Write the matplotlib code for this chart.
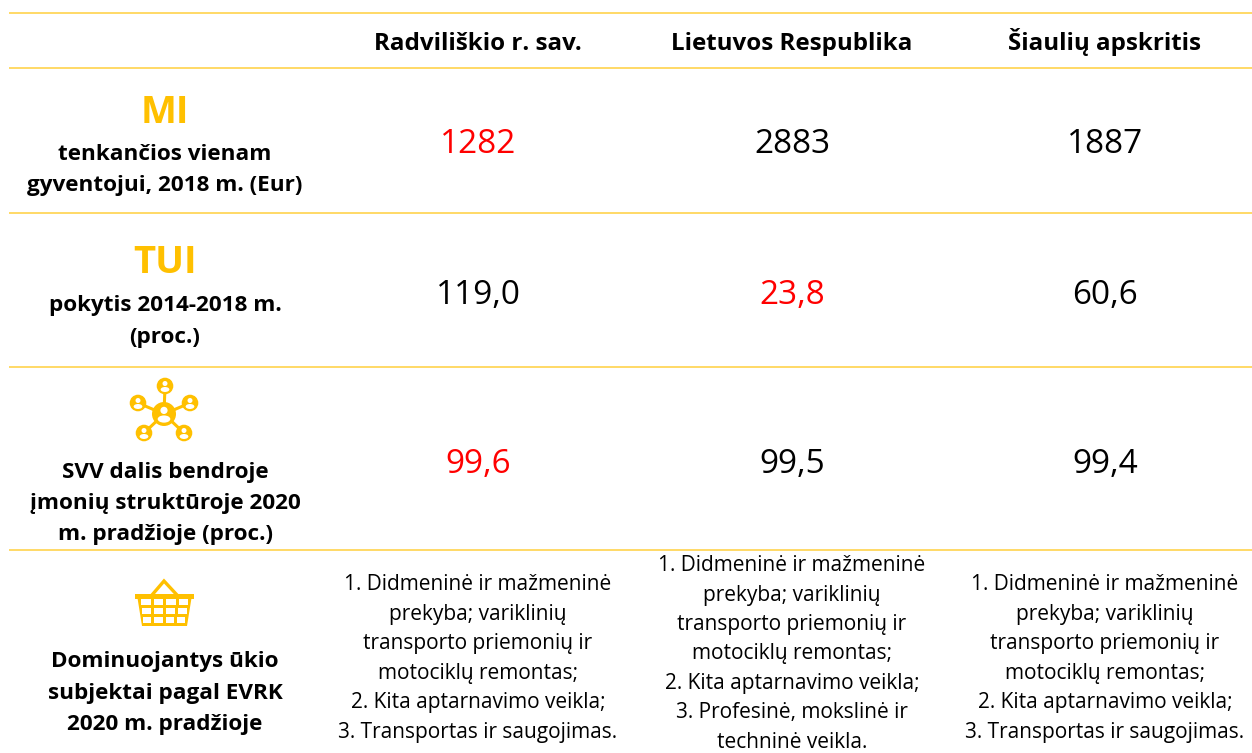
import matplotlib
matplotlib.use("Agg")
import matplotlib.pyplot as plt
from matplotlib.patches import Circle, Polygon, Ellipse

columns = ["Radviliškio r. sav.", "Lietuvos Respublika", "Šiaulių apskritis"]
row_titles = ["MI", "TUI"]
row_labels = [
    "tenkančios vienam\ngyventojui, 2018 m. (Eur)",
    "pokytis 2014-2018 m.\n(proc.)",
    "SVV dalis bendroje\nįmonių struktūroje 2020\nm. pradžioje (proc.)",
    "Dominuojantys ūkio\nsubjektai pagal EVRK\n2020 m. pradžioje",
]
values_mi = ["1282", "2883", "1887"]
values_tui = ["119,0", "23,8", "60,6"]
values_svv = ["99,6", "99,5", "99,4"]
evrk = [
    "1. Didmeninė ir mažmeninė\nprekyba; variklinių\ntransporto priemonių ir\nmotociklų remontas;\n2. Kita aptarnavimo veikla;\n3. Transportas ir saugojimas.",
    "1. Didmeninė ir mažmeninė\nprekyba; variklinių\ntransporto priemonių ir\nmotociklų remontas;\n2. Kita aptarnavimo veikla;\n3. Profesinė, mokslinė ir\ntechninė veikla.",
    "1. Didmeninė ir mažmeninė\nprekyba; variklinių\ntransporto priemonių ir\nmotociklų remontas;\n2. Kita aptarnavimo veikla;\n3. Transportas ir saugojimas.",
]

GOLD = "#FFC000"
LINE = "#FFD966"
FONT = "Open Sans"

fig = plt.figure(figsize=(12.52, 7.53), dpi=100)
ax = fig.add_axes([0, 0, 1, 1])
ax.set_xlim(0, 1252)
ax.set_ylim(753, 0)
ax.axis("off")

for y in [13, 68, 213, 367, 550]:
    ax.plot([9, 1252], [y, y], color=LINE, lw=1.4, solid_capstyle="butt")

col_x = [478, 792, 1105]
for x, t in zip(col_x, columns):
    ax.text(x, 49.5, t, ha="center", va="baseline", fontsize=17.4, fontweight="bold", family=FONT, color="black")

ax.text(165, 113, row_titles[0], ha="center", va="center", fontsize=27.5, fontweight="bold", family=FONT, color=GOLD)
ax.text(165, 263, row_titles[1], ha="center", va="center", fontsize=27.5, fontweight="bold", family=FONT, color=GOLD)

lab = dict(ha="center", va="center", fontsize=16.2, fontweight="bold", family=FONT, linespacing=1.63)
ax.text(165, 170, row_labels[0], **lab)
ax.text(165, 321.5, row_labels[1], **lab)
ax.text(165, 503.5, row_labels[2], **lab)
ax.text(165, 693, row_labels[3], **lab)

for vals, y, hi in [(values_mi, 144, 0), (values_tui, 295, 1), (values_svv, 464, 0)]:
    for i, (x, v) in enumerate(zip(col_x, vals)):
        ax.text(x, y, v, ha="center", va="center", fontsize=24, family=FONT, color="red" if i == hi else "black")

for x, t, y in zip(col_x, evrk, [658.5, 654, 658.5]):
    ax.text(x, y, t, ha="center", va="center", fontsize=15, family=FONT, linespacing=1.53, color="black")


def person(cx, cy, r):
    ax.add_patch(Circle((cx, cy), r, fc=GOLD, ec="none", zorder=3))
    ax.add_patch(Circle((cx, cy - r * 0.3), r * 0.3, fc="white", ec="none", zorder=4))
    ax.add_patch(Ellipse((cx, cy + r * 0.42), r * 1.05, r * 0.6, fc="white", ec="none", zorder=4))


hub = (164, 414)
for sx, sy in [(165, 386), (138, 403), (190, 403), (144, 433), (184, 433)]:
    ax.plot([hub[0], sx], [hub[1], sy], color=GOLD, lw=2.2, zorder=2)
    person(sx, sy, 8.3)
person(hub[0], hub[1], 12)

# basket
ax.plot([152, 164, 177], [595, 581, 595], color=GOLD, lw=2.4, zorder=2, solid_joinstyle="miter")
ax.add_patch(Polygon([(137, 595), (192, 595), (187, 626), (142, 626)], closed=True, fc=GOLD, ec="none", zorder=3))
ax.add_patch(Polygon([(135, 594), (194, 594), (194, 599), (135, 599)], closed=True, fc=GOLD, ec="none", zorder=3))
rows = [(598.5, 604.5, 141, 188), (607.5, 613.5, 142, 186.5), (617, 623, 143, 185)]
for y0, y1, xl, xr in rows:
    w = (xr - xl - 9) / 4
    for k in range(4):
        x0 = xl + k * (w + 3)
        ax.add_patch(Polygon([(x0, y0), (x0 + w, y0), (x0 + w, y1), (x0, y1)], closed=True, fc="white", ec="none", zorder=4))

fig.savefig("out.png", dpi=100, facecolor="white")
